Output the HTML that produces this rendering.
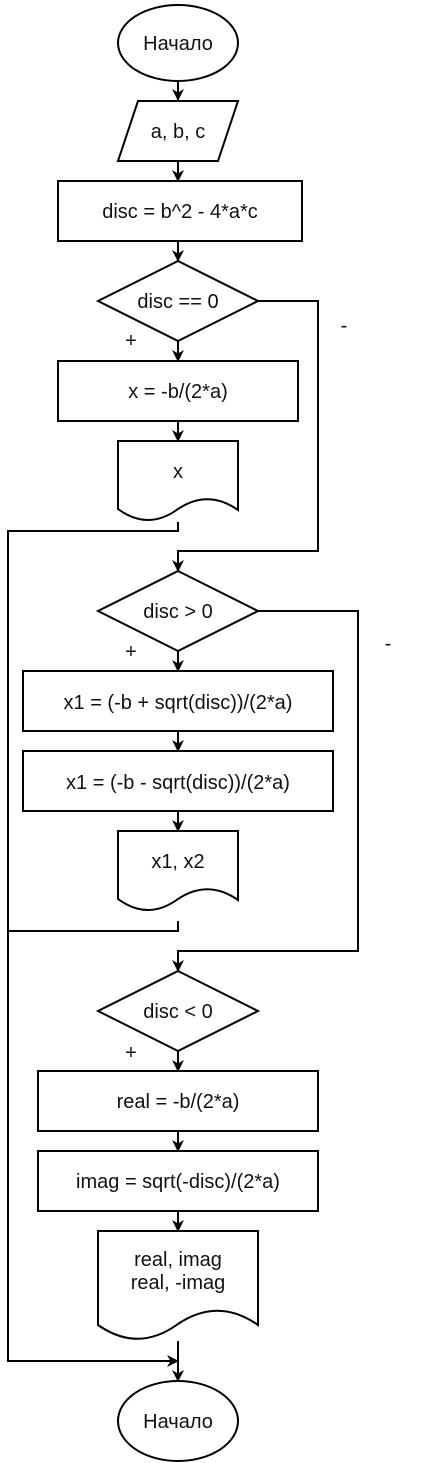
<!DOCTYPE html>
<html><head><meta charset="utf-8"><style>
html,body{margin:0;padding:0;background:#fff;}
svg{display:block;}
text{font-family:"Liberation Sans","Noto Sans CJK SC",sans-serif;font-size:20px;fill:#111;}
</style></head><body>
<svg width="430" height="1463" viewBox="0 0 430 1463">
<defs><marker id="ar" markerWidth="12" markerHeight="12" refX="11" refY="6" orient="auto" markerUnits="userSpaceOnUse"><path d="M0,0 L12,6 L0,12 L3.5,6 z" fill="#000"/></marker></defs>
<g stroke="#000" stroke-width="2" fill="none">
<path d="M178,81 V100" marker-end="url(#ar)"/>
<path d="M178,161 V181" marker-end="url(#ar)"/>
<path d="M178,241 V261" marker-end="url(#ar)"/>
<path d="M178,341 V361" marker-end="url(#ar)"/>
<path d="M178,421 V441" marker-end="url(#ar)"/>
<path d="M258,301 H318 V551 H178 V571" marker-end="url(#ar)"/>
<path d="M178,522 V531 H8 V1361 H178" marker-end="url(#ar)"/>
<path d="M178,651 V671" marker-end="url(#ar)"/>
<path d="M178,731 V751" marker-end="url(#ar)"/>
<path d="M178,811 V831" marker-end="url(#ar)"/>
<path d="M258,611 H358 V951 H178 V971" marker-end="url(#ar)"/>
<path d="M178,921 V931 H8"/>
<path d="M178,1051 V1071" marker-end="url(#ar)"/>
<path d="M178,1131 V1151" marker-end="url(#ar)"/>
<path d="M178,1211 V1231" marker-end="url(#ar)"/>
<path d="M178,1341 V1381" marker-end="url(#ar)"/>
<ellipse cx="178" cy="43" rx="60" ry="38" fill="#fff"/>
<path d="M138,101 H238 L218,161 H118 Z" fill="#fff"/>
<rect x="58" y="181" width="244" height="60" fill="#fff"/>
<path d="M178,261 L258,301 L178,341 L98,301 Z" fill="#fff"/>
<rect x="58" y="361" width="240" height="60" fill="#fff"/>
<path d="M118,441 H238 V510 Q208,489 178,509 Q148,531 118,509 Z" fill="#fff"/>
<path d="M178,571 L258,611 L178,651 L98,611 Z" fill="#fff"/>
<rect x="23" y="671" width="310" height="60" fill="#fff"/>
<rect x="23" y="751" width="310" height="60" fill="#fff"/>
<path d="M118,831 H238 V900 Q208,879 178,899 Q148,921 118,899 Z" fill="#fff"/>
<path d="M178,971 L258,1011 L178,1051 L98,1011 Z" fill="#fff"/>
<rect x="38" y="1071" width="280" height="60" fill="#fff"/>
<rect x="38" y="1151" width="280" height="60" fill="#fff"/>
<path d="M98,1231 H258 V1325 Q218,1297 178,1324 Q138,1353 98,1325 Z" fill="#fff"/>
<ellipse cx="178" cy="1421" rx="60" ry="40" fill="#fff"/>
</g>
<g text-anchor="middle">
<text x="178" y="50">Начало</text>
<text x="178" y="138">a, b, c</text>
<text x="180" y="218">disc = b^2 - 4*a*c</text>
<text x="178" y="308">disc == 0</text>
<text x="178" y="398">x = -b/(2*a)</text>
<text x="178" y="478">x</text>
<text x="178" y="618">disc &gt; 0</text>
<text x="178" y="709">x1 = (-b + sqrt(disc))/(2*a)</text>
<text x="178" y="789">x1 = (-b - sqrt(disc))/(2*a)</text>
<text x="178" y="868">x1, x2</text>
<text x="178" y="1018">disc &lt; 0</text>
<text x="178" y="1108">real = -b/(2*a)</text>
<text x="178" y="1188">imag = sqrt(-disc)/(2*a)</text>
<text x="178" y="1266">real, imag</text>
<text x="178" y="1289">real, -imag</text>
<text x="178" y="1428">Начало</text>
<text x="131" y="347">+</text>
<text x="344" y="332">-</text>
<text x="131" y="658">+</text>
<text x="388" y="650">-</text>
<text x="131" y="1059">+</text>
</g>
</svg>
</body></html>
